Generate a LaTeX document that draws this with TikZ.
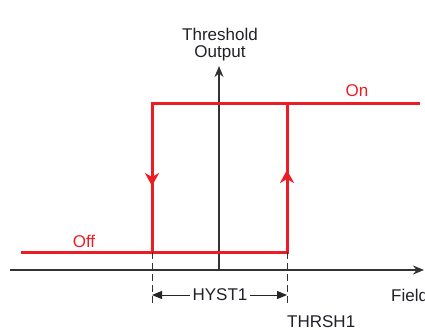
\documentclass[tikz,border=0pt]{standalone}
\usepackage{fontspec}
\setmainfont{Liberation Sans}
\usetikzlibrary{arrows.meta}
\definecolor{hred}{RGB}{237,28,36}
\definecolor{txt}{RGB}{35,31,40}
\begin{document}
\begin{tikzpicture}[x=1pt,y=-1pt,
  lbl/.style={font=\fontsize{17}{19}\selectfont, text=txt, inner sep=0pt},
  redlbl/.style={font=\fontsize{17}{19}\selectfont, text=hred, inner sep=0pt},
  axis/.style={line width=2pt, draw=black!80, -{Stealth[length=11pt,width=9pt]}},
  loop/.style={line width=3pt, draw=hred},
  dir/.style={draw=hred, line width=3pt, -{Stealth[length=13pt,width=14pt,inset=4pt]}},
  guide/.style={draw=black!80, line width=1pt, dash pattern=on 7pt off 4pt},
  dim/.style={draw=black!85, line width=1pt, -{Triangle[length=10pt,width=8pt]}}]
\useasboundingbox (0,0) rectangle (425,329);
% coordinates
\coordinate (axL) at (10,270);
\coordinate (axR) at (424,270);
\coordinate (org) at (219,270);
\coordinate (axT) at (219,66);
\coordinate (offL) at (21,252);
\coordinate (lb) at (152,252);
\coordinate (lt) at (152,103);
\coordinate (rb) at (287,252);
\coordinate (rt) at (287,103);
\coordinate (onR) at (420,103);
\coordinate (ldn) at (152,186);
\coordinate (lmid) at (152,160);
\coordinate (rup) at (287,170);
\coordinate (rmid) at (287,196);
\coordinate (gl) at (152,306);
\coordinate (gr) at (287,306);
% axes
\draw[axis] (axL) -- (axR);
\draw[axis] (org) -- (axT);
% hysteresis loop
\draw[loop] (offL) -- (rb) -- (rt);
\draw[loop] (lb) -- (lt) -- (onR);
\draw[dir] (lmid) -- (ldn);
\draw[dir] (rmid) -- (rup);
% guides
\draw[guide] (lb) -- (gl);
\draw[guide] (rb) -- (gr);
% labels
\node[lbl, align=center] (title) at (220,45) {Threshold\\[-2pt]Output};
\node[redlbl] (on) at (357,91) {On};
\node[redlbl] (off) at (84,241) {Off};
\node[lbl, fill=white, inner xsep=2pt] (hyst) at (220,295) {HYST1};
\coordinate (hl) at (152,295);
\coordinate (hr) at (287,295);
\draw[dim] (hyst.west) -- (hl);
\draw[dim] (hyst.east) -- (hr);
\node[lbl, anchor=west] (field) at (391,295) {Field};
\node[lbl, anchor=west] (thr) at (287,322) {THRSH1};
\end{tikzpicture}
\end{document}
